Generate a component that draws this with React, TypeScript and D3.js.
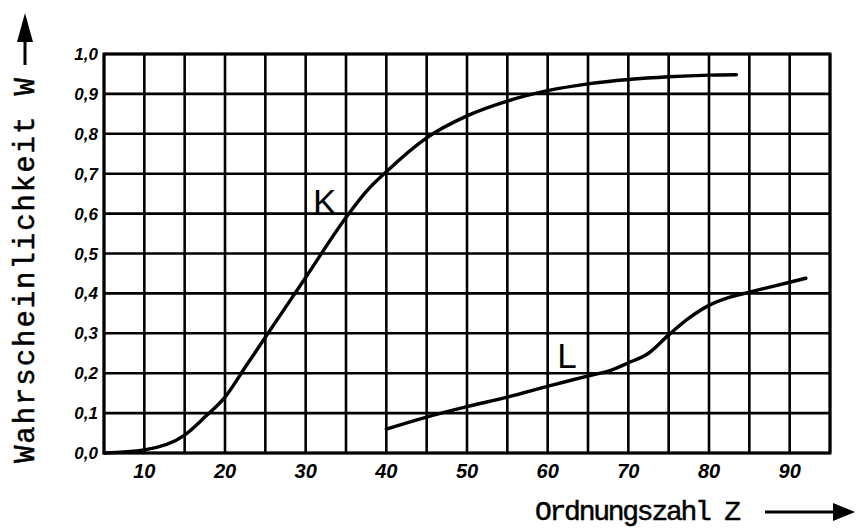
import React from "react";
import * as d3 from "d3";

const kZ = [5, 10, 15, 17.5, 20, 22.5, 25, 30, 35, 37.5, 40, 45, 50, 55, 60, 65, 70, 75, 80, 83.4];
const kW = [0, 0.008, 0.045, 0.09, 0.14, 0.215, 0.29, 0.44, 0.59, 0.655, 0.705, 0.79, 0.845, 0.882, 0.908, 0.925, 0.936, 0.943, 0.947, 0.948];

const lZ = [40, 45, 50, 55, 60, 65, 67.5, 70, 72.5, 75, 77.5, 80, 82.5, 85, 90, 92];
const lW = [0.06, 0.09, 0.116, 0.14, 0.167, 0.193, 0.205, 0.226, 0.25, 0.296, 0.338, 0.37, 0.39, 0.403, 0.428, 0.438];

const xTicks = [10, 20, 30, 40, 50, 60, 70, 80, 90];
const xGrid = d3.range(5, 96, 5);
const yTicks = d3.range(0, 11).map(i => i / 10);
const yTickLabels = ["0,0", "0,1", "0,2", "0,3", "0,4", "0,5", "0,6", "0,7", "0,8", "0,9", "1,0"];

const x = d3.scaleLinear().domain([5, 95]).range([104, 830]);
const y = d3.scaleLinear().domain([0, 1]).range([453, 54]);

const line = d3.line<[number, number]>()
    .x(d => x(d[0]))
    .y(d => y(d[1]))
    .curve(d3.curveMonotoneX);

const tickFont = "'Liberation Sans', Arial, sans-serif";
const titleFont = "'Liberation Mono', 'DejaVu Sans Mono', monospace";

export default function App() {
    const kPts = kZ.map((z, i) => [z, kW[i]] as [number, number]);
    const lPts = lZ.map((z, i) => [z, lW[i]] as [number, number]);

    return (
        <svg width={856} height={528} style={{ position: "absolute", left: 0, top: 0, background: "#fff" }}>
            {/* grid */}
            {xGrid.map(v => (
                <line key={"gx" + v} x1={x(v)} x2={x(v)} y1={y(0)} y2={y(1)} stroke="#000" strokeWidth={2.6} />
            ))}
            {yTicks.map(v => (
                <line key={"gy" + v} x1={x(5)} x2={x(95)} y1={y(v)} y2={y(v)} stroke="#000" strokeWidth={2.6} />
            ))}
            <rect x={x(5)} y={y(1)} width={x(95) - x(5)} height={y(0) - y(1)} fill="none" stroke="#000" strokeWidth={3} />

            {/* curves */}
            <path d={line(kPts) ?? ""} fill="none" stroke="#000" strokeWidth={3.4} strokeLinecap="round" />
            <path d={line(lPts) ?? ""} fill="none" stroke="#000" strokeWidth={3.4} strokeLinecap="round" />

            <text x={x(30.9)} y={y(0.6)} fontFamily={tickFont} fontSize={35} fill="#000">K</text>
            <text x={x(61.2)} y={y(0.212)} fontFamily={tickFont} fontSize={35} fill="#000">L</text>

            {/* y tick labels */}
            {yTicks.map((v, i) => (
                <text key={"yl" + v} x={98} y={y(v) + 6} textAnchor="end" fontFamily={tickFont}
                    fontWeight="bold" fontStyle="italic" fontSize={17} fill="#000">{yTickLabels[i]}</text>
            ))}

            {/* x tick labels */}
            {xTicks.map(v => (
                <text key={"xl" + v} x={x(v)} y={478} textAnchor="middle" fontFamily={tickFont}
                    fontWeight="bold" fontStyle="italic" fontSize={20} fill="#000">{v}</text>
            ))}

            {/* axis titles */}
            <text x={535} y={520} fontFamily={titleFont} fontSize={28} fill="#000" stroke="#000" strokeWidth={0.5}
                textLength={206} lengthAdjust="spacing">Ordnungszahl Z</text>
            <line x1={765} x2={835} y1={512} y2={512} stroke="#000" strokeWidth={3} />
            <path d="M833,503 L855,512 L833,521 Z" fill="#000" />

            <text transform="translate(34,463) rotate(-90)" fontFamily={titleFont} fontSize={29} fill="#000"
                stroke="#000" strokeWidth={0.5} textLength={385} lengthAdjust="spacing">Wahrscheinlichkeit W</text>
            <line x1={25} x2={25} y1={36} y2={65} stroke="#000" strokeWidth={3} />
            <path d="M17,42 L25,13 L33,42 Z" fill="#000" />
        </svg>
    );
}
